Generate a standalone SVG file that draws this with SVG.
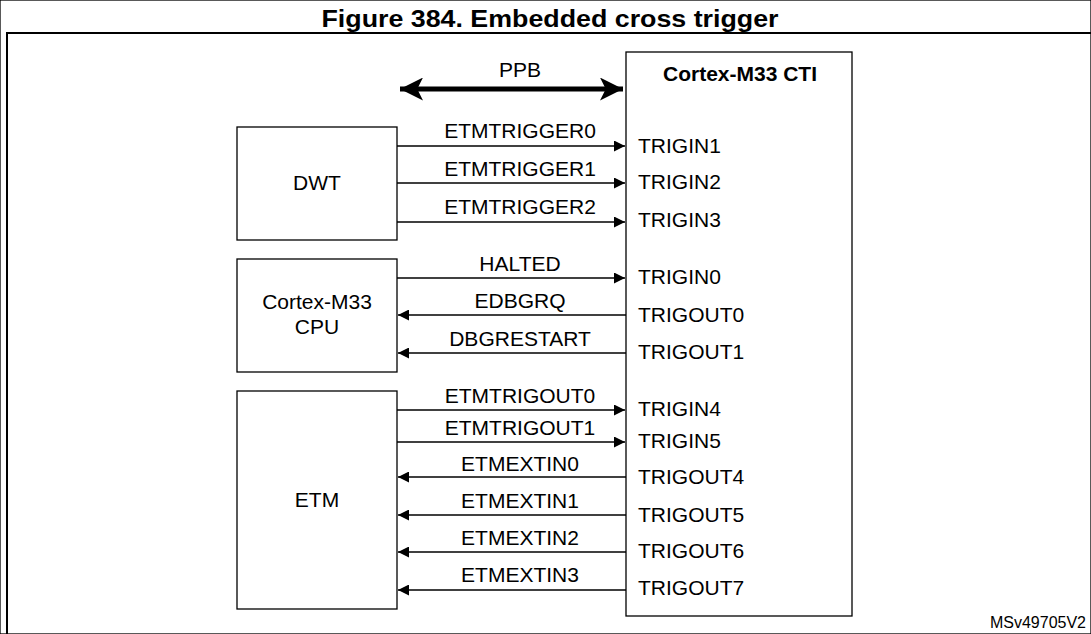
<svg xmlns="http://www.w3.org/2000/svg" width="1091" height="634" viewBox="0 0 1091 634">
<defs>
<marker id="a" viewBox="0 0 10 10" refX="10" refY="5" markerWidth="12" markerHeight="11" markerUnits="userSpaceOnUse" orient="auto-start-reverse"><path d="M0,0L10,5L0,10z" fill="#000"/></marker>
<marker id="b" viewBox="0 0 10 10" refX="10" refY="5" markerWidth="23" markerHeight="23" markerUnits="userSpaceOnUse" orient="auto-start-reverse"><path d="M0,0L10,5L0,10L2.5,5z" fill="#000"/></marker>
<style>
text{font-family:"Liberation Sans",Arial,sans-serif;font-size:21px;fill:#000}
.m{text-anchor:middle}
rect{fill:#fff;stroke:#000;stroke-width:1.3}
.c line{stroke:#000;stroke-width:1.3}
</style>
</defs>
<rect width="1091" height="634" fill="#fff" stroke="none"/>
<text x="550" y="27" class="m" textLength="457" lengthAdjust="spacingAndGlyphs" style="font-weight:bold;font-size:23px">Figure 384. Embedded cross trigger</text>
<rect x="7" y="33" width="1090" height="610" style="fill:none;stroke-width:2"/>
<g id="cti"><rect x="626" y="52" width="226" height="564"/><text x="740" y="81" class="m" style="font-weight:bold">Cortex-M33 CTI</text>
<text x="638" y="153">TRIGIN1</text><text x="638" y="189">TRIGIN2</text><text x="638" y="227">TRIGIN3</text>
<text x="638" y="284">TRIGIN0</text><text x="638" y="322">TRIGOUT0</text><text x="638" y="359">TRIGOUT1</text>
<text x="638" y="416">TRIGIN4</text><text x="638" y="448">TRIGIN5</text><text x="638" y="484">TRIGOUT4</text>
<text x="638" y="522">TRIGOUT5</text><text x="638" y="558">TRIGOUT6</text><text x="638" y="595">TRIGOUT7</text></g>
<g id="dwt"><rect x="237" y="127" width="160" height="113"/><text x="317" y="190" class="m">DWT</text></g>
<g id="cpu"><rect x="237" y="259" width="160" height="113"/><text x="317" y="309" class="m">Cortex-M33</text><text x="317" y="334" class="m">CPU</text></g>
<g id="etm"><rect x="237" y="391" width="160" height="218"/><text x="317" y="507" class="m">ETM</text></g>
<g class="c" id="connectors">
<line x1="400" y1="89" x2="623" y2="89" style="stroke-width:5" marker-start="url(#b)" marker-end="url(#b)"/>
<line x1="397" y1="146" x2="625" y2="146" marker-end="url(#a)"/>
<line x1="397" y1="183" x2="625" y2="183" marker-end="url(#a)"/>
<line x1="397" y1="222" x2="625" y2="222" marker-end="url(#a)"/>
<line x1="397" y1="278" x2="625" y2="278" marker-end="url(#a)"/>
<line x1="626" y1="315" x2="398" y2="315" marker-end="url(#a)"/>
<line x1="626" y1="353" x2="398" y2="353" marker-end="url(#a)"/>
<line x1="397" y1="410" x2="625" y2="410" marker-end="url(#a)"/>
<line x1="397" y1="442" x2="625" y2="442" marker-end="url(#a)"/>
<line x1="626" y1="477" x2="398" y2="477" marker-end="url(#a)"/>
<line x1="626" y1="515" x2="398" y2="515" marker-end="url(#a)"/>
<line x1="626" y1="552" x2="398" y2="552" marker-end="url(#a)"/>
<line x1="626" y1="590" x2="398" y2="590" marker-end="url(#a)"/>
</g>
<g>
<text x="520" y="77" class="m">PPB</text>
<text x="520" y="138" class="m">ETMTRIGGER0</text>
<text x="520" y="176" class="m">ETMTRIGGER1</text>
<text x="520" y="214" class="m">ETMTRIGGER2</text>
<text x="520" y="271" class="m">HALTED</text>
<text x="520" y="308" class="m">EDBGRQ</text>
<text x="520" y="346" class="m">DBGRESTART</text>
<text x="520" y="403" class="m">ETMTRIGOUT0</text>
<text x="520" y="435" class="m">ETMTRIGOUT1</text>
<text x="520" y="471" class="m">ETMEXTIN0</text>
<text x="520" y="508" class="m">ETMEXTIN1</text>
<text x="520" y="545" class="m">ETMEXTIN2</text>
<text x="520" y="582" class="m">ETMEXTIN3</text>
</g>
<text x="1086" y="628" style="font-size:16px;text-anchor:end">MSv49705V2</text>
</svg>
